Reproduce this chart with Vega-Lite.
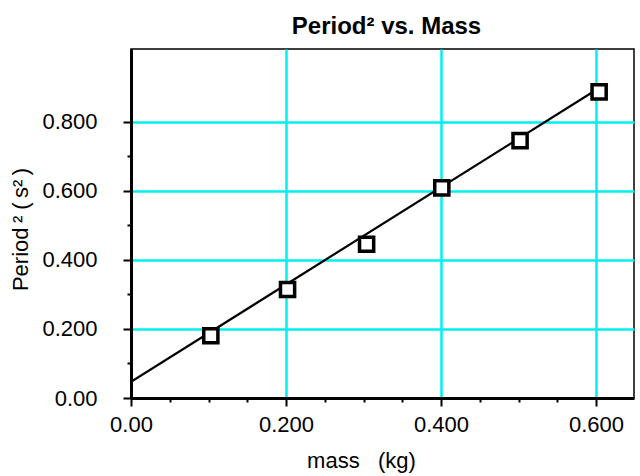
{
  "$schema": "https://vega.github.io/schema/vega-lite/v6.json",
  "autosize": "none",
  "width": 503,
  "height": 349,
  "padding": {"left": 131, "top": 49, "right": 6, "bottom": 78},
  "background": "white",
  "config": {
    "font": "Liberation Sans",
    "view": {"stroke": "black", "strokeWidth": 1.5}
  },
  "title": {
    "text": "Period² vs. Mass",
    "font": "Liberation Sans",
    "fontSize": 24,
    "fontWeight": "bold",
    "color": "black",
    "offset": 10,
    "dx": 4
  },
  "datasets": {
    "points": [
      {"mass": 0.103, "period2": 0.180},
      {"mass": 0.202, "period2": 0.314},
      {"mass": 0.304, "period2": 0.445},
      {"mass": 0.401, "period2": 0.608},
      {"mass": 0.502, "period2": 0.745},
      {"mass": 0.604, "period2": 0.886}
    ],
    "fit": [
      {"mass": 0.0, "period2": 0.047},
      {"mass": 0.604, "period2": 0.897}
    ]
  },
  "layer": [
    {
      "data": {"name": "fit"},
      "mark": {"type": "line", "color": "black", "strokeWidth": 2.2, "clip": true},
      "encoding": {
        "x": {
          "field": "mass", "type": "quantitative",
          "scale": {"domain": [0, 0.649], "nice": false, "zero": false},
          "axis": {
            "title": "mass\u00a0\u00a0\u00a0(kg)",
            "titleFontSize": 22,
            "titleFontWeight": "normal",
            "titleColor": "black",
            "titleX": 230,
            "titleY": 69,
            "titleAlign": "center",
            "titleBaseline": "alphabetic",
            "values": [0, 0.05, 0.1, 0.15, 0.2, 0.25, 0.3, 0.35, 0.4, 0.45, 0.5, 0.55, 0.6],
            "labelExpr": "round(datum.value*20) % 4 == 0 ? (datum.value == 0 ? '0.00' : format(datum.value, '.3f')) : ''",
            "labelFontSize": 22,
            "labelColor": "black",
            "labelPadding": 8,
            "labelFlush": false,
            "domainColor": "black",
            "domainWidth": 3,
            "tickColor": "black",
            "tickWidth": 2,
            "tickSize": {"condition": {"test": "round(datum.value*20) % 4 == 0", "value": 8}, "value": 4},
            "grid": true,
            "gridColor": "#00f0f0",
            "gridWidth": 2.5,
            "gridOpacity": {"condition": {"test": "round(datum.value*20) % 4 == 0 && datum.value > 0", "value": 1}, "value": 0}
          }
        },
        "y": {
          "field": "period2", "type": "quantitative",
          "scale": {"domain": [0, 1.01], "nice": false, "zero": false},
          "axis": {
            "title": "Period\u2009² (\u2009s²\u2009)",
            "titleFontSize": 22,
            "titleFontWeight": "normal",
            "titleColor": "black",
            "titleX": -104,
            "titleY": 180,
            "titleAngle": -90,
            "titleAlign": "center",
            "titleBaseline": "alphabetic",
            "values": [0, 0.05, 0.1, 0.15, 0.2, 0.25, 0.3, 0.35, 0.4, 0.45, 0.5, 0.55, 0.6, 0.65, 0.7, 0.75, 0.8, 0.85],
            "labelExpr": "round(datum.value*20) % 4 == 0 ? (datum.value == 0 ? '0.00' : format(datum.value, '.3f')) : ''",
            "labelFontSize": 22,
            "labelColor": "black",
            "labelPadding": 26,
            "labelFlush": false,
            "domainColor": "black",
            "domainWidth": 3,
            "tickColor": "black",
            "tickWidth": 2,
            "tickSize": {"condition": {"test": "round(datum.value*20) % 4 == 0", "value": 8}, "value": 4},
            "grid": true,
            "gridColor": "#00f0f0",
            "gridWidth": 2.5,
            "gridOpacity": {"condition": {"test": "round(datum.value*20) % 4 == 0 && datum.value > 0", "value": 1}, "value": 0}
          }
        }
      }
    },
    {
      "data": {"name": "points"},
      "mark": {"type": "point", "shape": "square", "size": 200, "filled": false, "fill": "white", "fillOpacity": 1, "stroke": "black", "strokeWidth": 3.5, "opacity": 1},
      "encoding": {
        "x": {"field": "mass", "type": "quantitative"},
        "y": {"field": "period2", "type": "quantitative"}
      }
    }
  ]
}
